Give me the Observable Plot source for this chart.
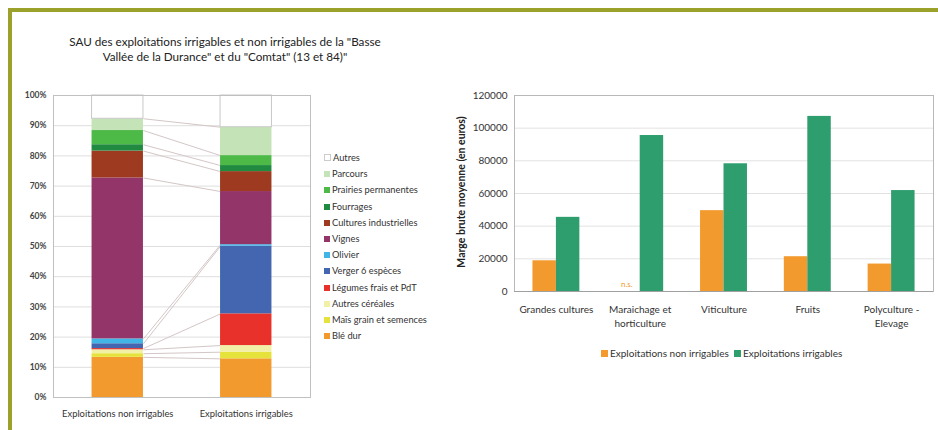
<!DOCTYPE html>
<html>
<head>
<meta charset="utf-8">
<script src="https://cdn.jsdelivr.net/npm/d3@7"></script>
<script src="https://cdn.jsdelivr.net/npm/@observablehq/plot@0.6"></script>
<style>
  html, body { margin: 0; padding: 0; background: #fff; }
  #page { position: relative; width: 938px; height: 430px; overflow: hidden; font-family: Lato, "Open Sans", sans-serif; color: #222; }
  .abs { position: absolute; }
  .bar-top { left: 8px; top: 8px; width: 930px; height: 4px; background: #9ba12b; }
  .bar-left { left: 8px; top: 8px; width: 4px; height: 422px; background: #9ba12b; }
  #title { left: 25px; top: 34px; width: 400px; text-align: center; font-size: 11.7px; line-height: 15px; color: #222; }
  .leg { font-size: 9.3px; color: #333; white-space: nowrap; line-height: 10px; }
  .sw { display: inline-block; width: 6px; height: 6px; margin-right: 2px; vertical-align: 0px; }
  .leg2 { font-size: 10px; color: #333; white-space: nowrap; }
  #left, #right { overflow: visible; }
  #left svg, #right svg { max-width: none !important; display: block; }
</style>
</head>
<body>
<div id="page">
  <div id="left" class="abs" style="left:0;top:0;width:470px;height:430px;"></div>
  <div id="right" class="abs" style="left:460px;top:0;width:478px;height:430px;"></div>
  <div class="abs bar-top"></div>
  <div class="abs bar-left"></div>
  <div id="title" class="abs">SAU des exploitations irrigables et non irrigables de la "Basse<br>Vallée de la Durance" et du "Comtat" (13 et 84)"</div>
  <div id="legend1"></div>
  <div id="legend2"></div>
</div>
<script>
// ---------- Left chart data (SAU, % of area) ----------
const farmTypes = ["Exploitations non irrigables", "Exploitations irrigables"];
const crops = ["Blé dur", "Maïs grain et semences", "Autres céréales", "Légumes frais et PdT", "Verger 6 espèces", "Olivier", "Vignes", "Cultures industrielles", "Fourrages", "Prairies permanentes", "Parcours", "Autres"];
const shareNonIrrigable = [13.3, 1.2, 1.3, 0.4, 1.6, 1.6, 53.3, 8.9, 2.1, 4.7, 3.9, 7.7];
const shareIrrigable    = [12.8, 2.2, 2.2, 10.5, 22.4, 0.5, 17.6, 6.6, 2.0, 3.3, 9.4, 10.5];
const cropColors = ["#f39a2e", "#e6e23c", "#f2efa6", "#e8312b", "#4466b0", "#41b6e6", "#943569", "#9d3a1f", "#1f8a40", "#4dba48", "#c4e3b6", "#ffffff"];
const pctTicks = [0, 10, 20, 30, 40, 50, 60, 70, 80, 90, 100];

// ---------- Right chart data (marge brute moyenne, euros) ----------
const otex = ["Grandes cultures", "Maraichage et\nhorticulture", "Viticulture", "Fruits", "Polyculture -\nElevage"];
const margeNonIrrigable = [18800, null, 49500, 21300, 16800];
const margeIrrigable    = [45400, 95500, 78200, 107200, 61800];
const groupNames = ["Exploitations non irrigables", "Exploitations irrigables"];
const groupColors = ["#f39a2e", "#2f9e6e"];
const euroTicks = [0, 20000, 40000, 60000, 80000, 100000, 120000];

const FONT = "Lato, 'Open Sans', sans-serif";

// ---------- Build left chart ----------
const shares = [shareNonIrrigable, shareIrrigable];
const halfW = 0.2;
const rects = [];
const cums = shares.map(arr => Array.from(d3.cumsum(arr)));
shares.forEach((arr, ci) => {
  arr.forEach((v, si) => {
    rects.push({ci, crop: crops[si], y1: cums[ci][si] - v, y2: cums[ci][si]});
  });
});
const links = crops.slice(0, -1).map((c, si) => ({
  x1: 0 + halfW, x2: 1 - halfW, y1: cums[0][si], y2: cums[1][si]
}));

const left = Plot.plot({
  width: 470, height: 430,
  marginLeft: 53, marginRight: 160, marginTop: 95, marginBottom: 33,
  style: {fontFamily: FONT, fontSize: "9px", color: "#333", background: "transparent"},
  x: {domain: [-0.5, 1.5], axis: null},
  y: {domain: [0, 100], axis: null},
  color: {domain: crops, range: cropColors},
  marks: [
    Plot.ruleY(pctTicks, {stroke: "#dedede"}),
    Plot.link(links, {x1: "x1", y1: "y1", x2: "x2", y2: "y2", stroke: "#d4c6c6", strokeWidth: 1}),
    Plot.rect(rects, {x1: d => d.ci - halfW, x2: d => d.ci + halfW, y1: "y1", y2: "y2", fill: "crop",
      stroke: d => d.crop === "Autres" ? "#c8c8c8" : "none", strokeWidth: 1}),
    Plot.frame({stroke: "#c0c0c0"}),
    Plot.text(pctTicks, {x: -0.5, y: d => d, dx: -7, textAnchor: "end", text: d => d + "%",
      fontWeight: "bold", fontSize: 8.5, fill: "#444"}),
    Plot.text(farmTypes, {x: (d, i) => i, y: 0, dy: 16, text: d => d, fontSize: 9.4, fill: "#333"})
  ]
});
document.getElementById("left").appendChild(left);

// Left legend (top = Autres, bottom = Blé dur)
const leg1 = document.getElementById("legend1");
crops.slice().reverse().forEach((c, i) => {
  const col = cropColors[crops.indexOf(c)];
  const d = document.createElement("div");
  d.className = "abs leg";
  d.style.left = "324px";
  d.style.top = (153 + i * 16.2) + "px";
  d.innerHTML = `<span class="sw" style="background:${col};${c === "Autres" ? "border:1px solid #ccc;width:5px;height:5px;" : ""}"></span>${c}`;
  leg1.appendChild(d);
});

// ---------- Build right chart ----------
const bw = 0.28;
const bars = [];
otex.forEach((c, i) => {
  if (margeNonIrrigable[i] != null) bars.push({i, g: groupNames[0], x1: i - bw, x2: i, v: margeNonIrrigable[i]});
  if (margeIrrigable[i] != null) bars.push({i, g: groupNames[1], x1: i, x2: i + bw, v: margeIrrigable[i]});
});
const nsLabels = otex.map((c, i) => ({i, v: margeNonIrrigable[i]})).filter(d => d.v == null);

const right = Plot.plot({
  width: 478, height: 430,
  marginLeft: 54, marginRight: 5, marginTop: 95, marginBottom: 139,
  style: {fontFamily: FONT, fontSize: "10px", color: "#333", background: "transparent"},
  x: {domain: [-0.5, otex.length - 0.5], axis: null},
  y: {domain: [0, 120000], axis: null},
  color: {domain: groupNames, range: groupColors},
  marks: [
    Plot.ruleY(euroTicks, {stroke: "#e2e2e2"}),
    Plot.rectY(bars, {x1: "x1", x2: "x2", y: "v", fill: "g"}),
    Plot.text(nsLabels, {x: d => d.i - bw / 2 - 0.02, y: 0, dy: -7, text: () => "n.s.", fill: "#f39a2e", fontSize: 8}),
    Plot.frame({stroke: "#b8b8b8"}),
    Plot.ruleY([0], {stroke: "#a0a0a0"}),
    Plot.text(euroTicks, {x: -0.5, y: d => d, dx: -7, textAnchor: "end", text: d => String(d), fontSize: 10, fill: "#333"}),
    Plot.text(otex, {x: (d, i) => i, y: 0, dy: 12, lineAnchor: "top", lineHeight: 1.4, text: d => d, fontSize: 10, fill: "#333"})
  ]
});
document.getElementById("right").appendChild(right);

// Y axis title for right chart
const yt = document.createElement("div");
yt.className = "abs";
yt.style.cssText = "left:366px;top:186px;width:190px;text-align:center;font-size:10.5px;font-weight:bold;color:#222;transform:rotate(-90deg);transform-origin:center center;white-space:nowrap;";
yt.textContent = "Marge brute moyenne (en euros)";
document.getElementById("page").appendChild(yt);

// Right legend
const leg2 = document.getElementById("legend2");
const lw = document.createElement("div");
lw.className = "abs leg2";
lw.style.cssText = "left:601px;top:347px;";
lw.innerHTML = groupNames.map((g, i) => `<span class="sw" style="background:${groupColors[i]};width:7px;height:7px;"></span>${g}`).join("&nbsp;&nbsp;");
leg2.appendChild(lw);
</script>
</body>
</html>
